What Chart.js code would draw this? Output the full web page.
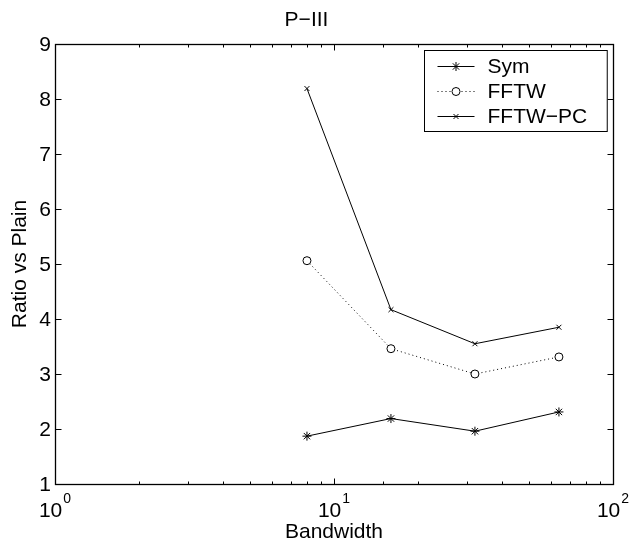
<!DOCTYPE html>
<html>
<head>
<meta charset="utf-8">
<script src="https://cdn.jsdelivr.net/npm/chart.js@4.4.0/dist/chart.umd.min.js"></script>
<style>
  html, body { margin: 0; padding: 0; background: #fff; }
  #wrap { width: 631px; height: 547px; }
</style>
</head>
<body>
<div id="wrap"><canvas id="chart"></canvas></div>
<script>
const bandwidth = [8, 16, 32, 64];
const symRatio = [1.87, 2.19, 1.96, 2.31];
const fftwRatio = [5.06, 3.46, 3.00, 3.31];
const fftwPcRatio = [8.19, 4.17, 3.55, 3.85];
const seriesNames = ['Sym', 'FFTW', 'FFTW\u2212PC'];
const xDecades = [1, 10, 100];
const xDecadeExponents = ['0', '1', '2'];
const yTicks = [1, 2, 3, 4, 5, 6, 7, 8, 9];

const FONT = "'Liberation Sans', Arial, Helvetica, sans-serif";

const toPoints = (values) => bandwidth.map((x, i) => ({ x: x, y: values[i] }));

// box, inward ticks, superscript decade labels and the boxed legend
const matlabAxes = {
    id: 'matlabAxes',
    afterDraw(chart) {
        const ctx = chart.ctx;
        const ca = chart.chartArea;
        const xs = chart.scales.x;
        const ys = chart.scales.y;
        const L = Math.round(ca.left) + 0.5, R = Math.round(ca.right) + 0.5;
        const T = Math.round(ca.top) + 0.5, B = Math.round(ca.bottom) + 0.5;

        ctx.save();
        ctx.strokeStyle = '#000';
        ctx.lineWidth = 1;

        ctx.beginPath();
        xs.ticks.forEach(t => {
            const lg = Math.log10(t.value);
            const major = Math.abs(lg - Math.round(lg)) < 1e-9;
            const len = major ? 6 : 3;
            const px = Math.round(xs.getPixelForValue(t.value)) + 0.5;
            if (px <= L + 1 || px >= R - 1) return;
            ctx.moveTo(px, B); ctx.lineTo(px, B - len);
            ctx.moveTo(px, T); ctx.lineTo(px, T + len);
        });
        ys.ticks.forEach(t => {
            const py = Math.round(ys.getPixelForValue(t.value)) + 0.5;
            if (py <= T + 1 || py >= B - 1) return;
            ctx.moveTo(L, py); ctx.lineTo(L + 6, py);
            ctx.moveTo(R, py); ctx.lineTo(R - 6, py);
        });
        ctx.stroke();

        ctx.lineWidth = 1.3;
        ctx.strokeRect(L, T, R - L, B - T);

        // decade labels 10^n
        ctx.fillStyle = '#000';
        ctx.textBaseline = 'alphabetic';
        ctx.textAlign = 'left';
        xDecades.forEach((v, i) => {
            const px = xs.getPixelForValue(v);
            ctx.font = '21px ' + FONT;
            const w1 = ctx.measureText('10').width;
            ctx.font = '14px ' + FONT;
            const w2 = ctx.measureText(xDecadeExponents[i]).width;
            const x0 = px - (w1 + w2 + 1) / 2;
            ctx.font = '21px ' + FONT;
            ctx.fillText('10', x0, 517);
            ctx.font = '14px ' + FONT;
            ctx.fillText(xDecadeExponents[i], x0 + w1 + 1, 503);
        });

        // legend
        ctx.font = '21px ' + FONT;
        let tw = 0;
        chart.data.datasets.forEach(ds => { tw = Math.max(tw, ctx.measureText(ds.label).width); });
        const bw = 63 + tw + 20, bh = 81;
        const bx = Math.round(ca.right - 6 - bw) + 0.5, by = Math.round(ca.top + 6) + 0.5;
        ctx.fillStyle = '#fff';
        ctx.fillRect(bx, by, bw, bh);
        ctx.lineWidth = 1;
        ctx.strokeRect(bx, by, bw, bh);
        chart.data.datasets.forEach((ds, i) => {
            const cy = by + 16 + i * 25;
            ctx.save();
            ctx.strokeStyle = '#000';
            ctx.lineWidth = 1;
            ctx.setLineDash(ds.borderDash || []);
            ctx.beginPath();
            ctx.moveTo(bx + 13, cy);
            ctx.lineTo(bx + 50, cy);
            ctx.stroke();
            ctx.setLineDash([]);
            ctx.fillStyle = '#fff';
            Chart.helpers.drawPoint(ctx, {
                pointStyle: ds.pointStyle,
                radius: ds.pointRadius,
                rotation: 0,
                borderWidth: 1
            }, bx + 31.5, cy);
            ctx.restore();
            ctx.fillStyle = '#000';
            ctx.textBaseline = 'middle';
            ctx.fillText(ds.label, bx + 63, cy + 1);
        });
        ctx.restore();
    }
};

const baseSet = {
    borderColor: '#000',
    backgroundColor: '#fff',
    pointBorderColor: '#000',
    pointBackgroundColor: '#fff',
    borderWidth: 1,
    pointBorderWidth: 1,
    pointHoverRadius: 4,
    tension: 0,
    fill: false
};

const ctx = document.getElementById('chart').getContext('2d');
const chart = new Chart(ctx, {
    type: 'line',
    data: {
        datasets: [
            Object.assign({}, baseSet, { label: seriesNames[0], data: toPoints(symRatio), pointStyle: 'star', pointRadius: 4.5 }),
            Object.assign({}, baseSet, { label: seriesNames[1], data: toPoints(fftwRatio), pointStyle: 'circle', pointRadius: 4, borderDash: [1, 3] }),
            Object.assign({}, baseSet, { label: seriesNames[2], data: toPoints(fftwPcRatio), pointStyle: 'crossRot', pointRadius: 3.5 })
        ]
    },
    options: {
        responsive: true,
        maintainAspectRatio: false,
        animation: false,
        layout: { padding: { left: 0, right: 18, top: 0, bottom: 0 } },
        plugins: {
            legend: { display: false },
            tooltip: { enabled: false },
            title: {
                display: true,
                text: 'P\u2212III',
                color: '#000',
                font: { family: FONT, size: 21, weight: 'normal', lineHeight: 1.2 },
                padding: { top: 8, bottom: 10.8 }
            }
        },
        scales: {
            x: {
                type: 'logarithmic',
                min: 1,
                max: 100,
                grid: { display: false, drawTicks: false },
                border: { display: false },
                ticks: { display: false, autoSkip: false },
                title: {
                    display: true,
                    text: 'Bandwidth',
                    color: '#000',
                    font: { family: FONT, size: 21, lineHeight: 1.2 },
                    padding: { top: 0, bottom: 2 }
                },
                afterFit: (scale) => { scale.height = 63; }
            },
            y: {
                min: 1,
                max: 9,
                grid: { display: false, drawTicks: false },
                border: { display: false },
                afterBuildTicks: (scale) => { scale.ticks = yTicks.map(v => ({ value: v })); },
                ticks: {
                    color: '#000',
                    padding: 4,
                    labelOffset: 1.5,
                    font: { family: FONT, size: 21 }
                },
                title: {
                    display: true,
                    text: 'Ratio vs Plain',
                    color: '#000',
                    font: { family: FONT, size: 21, lineHeight: 1.2 },
                    padding: { top: 8, bottom: 0 }
                },
                afterFit: (scale) => { scale.width = 55; }
            }
        }
    },
    plugins: [matlabAxes]
});
</script>
</body>
</html>
